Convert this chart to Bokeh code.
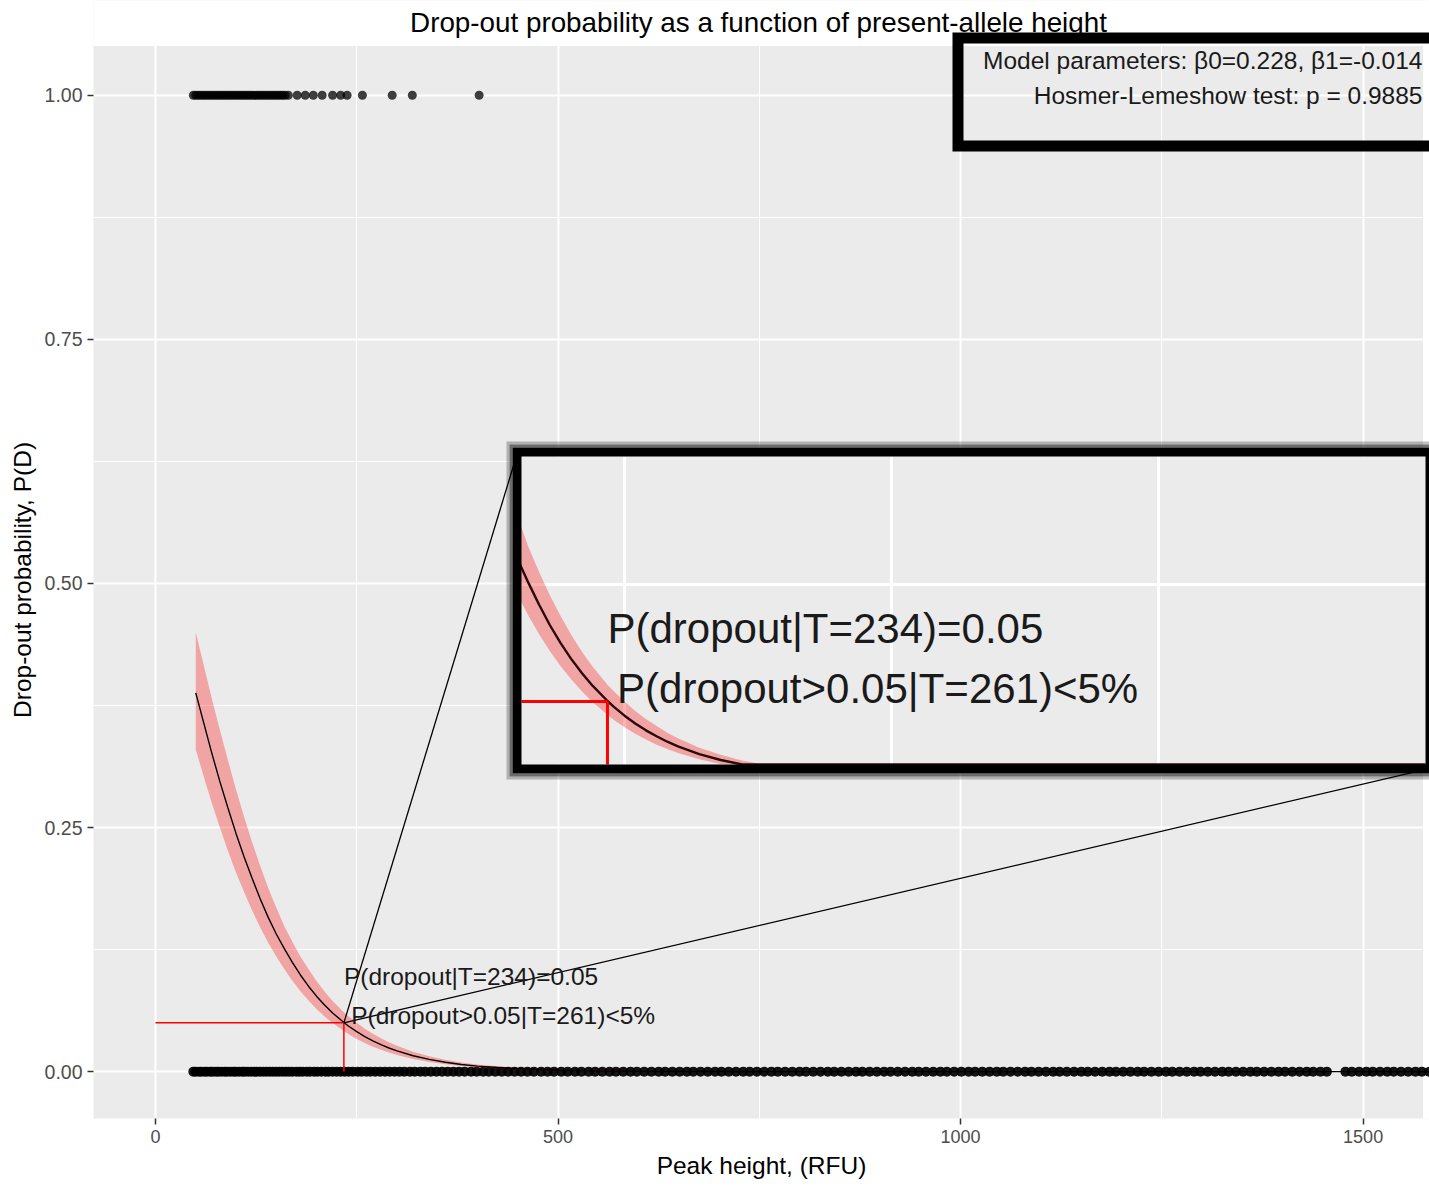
import numpy as np
from bokeh.plotting import figure
from bokeh.models import (Range1d, FixedTicker, NumeralTickFormatter, Label,
                          BoxAnnotation)
from bokeh.embed import file_html
from bokeh.resources import INLINE

FONT = "Liberation Sans"

# ---------------- data ----------------
# observed drop-outs (y = 1) : peak height of the present allele
dropout_x = [47, 50, 53, 56, 59, 62, 65, 68, 71, 74, 77, 80, 83, 86, 89, 92, 95,
             98, 101, 104, 107, 110, 113, 116, 119, 122, 125, 128, 131, 134, 137,
             140, 143, 146, 149, 152, 155, 158, 161, 165, 176, 186, 196, 207,
             220, 230, 238, 257, 294, 319, 402]
# observed non drop-outs (y = 0)
present_x = [47, 50, 54, 57, 61, 64, 68, 71, 75, 78, 82, 86, 89, 93, 97, 100, 104,
             108, 111, 115, 119, 123, 126, 130, 134, 138, 142, 146, 150, 154, 158,
             162, 166, 170, 175, 179, 183, 188, 192, 197, 201, 206, 211, 215, 220,
             225, 230, 235, 240, 245, 251, 256, 262, 267, 273, 279, 285, 291, 297,
             303, 309, 316, 322, 329, 335, 342, 349, 356, 363, 370, 377, 384, 392,
             399, 407, 414, 422, 430, 438, 446, 454, 462, 470, 479, 487, 495, 504,
             512, 521, 529, 538, 546, 555, 564, 572, 581, 590, 598, 607, 616, 625,
             633, 642, 651, 660, 668, 677, 686, 695, 703, 712, 721, 730, 738, 747,
             756, 765, 773, 782, 791, 800, 808, 817, 826, 835, 843, 852, 861, 870,
             878, 887, 896, 905, 913, 922, 931, 940, 948, 957, 966, 975, 983, 992,
             1001, 1010, 1018, 1027, 1036, 1045, 1053, 1062, 1071, 1080, 1088,
             1097, 1106, 1115, 1123, 1132, 1141, 1150, 1158, 1167, 1176, 1185,
             1193, 1202, 1211, 1220, 1228, 1237, 1246, 1255, 1263, 1272, 1281,
             1290, 1298, 1307, 1316, 1325, 1333, 1342, 1351, 1360, 1368, 1377,
             1386, 1395, 1403, 1412, 1421, 1430, 1438, 1447, 1455, 1478, 1486,
             1495, 1504, 1512, 1521, 1530, 1538, 1547, 1556, 1565, 1573, 1582]

# fitted drop-out probability and its confidence band
fit_x = [50, 60, 70, 80, 90, 100, 110, 120, 130, 140, 150, 160, 170, 180, 190,
         200, 210, 220, 234, 240, 250, 260, 270, 280, 290, 300, 320, 340, 360,
         380, 400, 450, 500, 550, 600, 700, 800, 1000, 1200, 1400, 1582]
fit_p = [0.388, 0.357, 0.326, 0.297, 0.270, 0.244, 0.220, 0.198, 0.177, 0.158,
         0.141, 0.126, 0.112, 0.099, 0.0875, 0.0773, 0.0682, 0.0601, 0.0503,
         0.0465, 0.0409, 0.0359, 0.0315, 0.0277, 0.0242, 0.0212, 0.0163, 0.0125,
         0.0096, 0.0073, 0.0056, 0.0029, 0.0015, 0.0008, 0.0004, 0.0001, 0.0,
         0.0, 0.0, 0.0, 0.0]
fit_lo = [0.330, 0.302, 0.275, 0.250, 0.226, 0.204, 0.184, 0.165, 0.148, 0.132,
          0.118, 0.105, 0.093, 0.0824, 0.0728, 0.0642, 0.0565, 0.0497, 0.0415,
          0.0382, 0.0334, 0.0293, 0.0256, 0.0223, 0.0196, 0.0170, 0.0130, 0.0099,
          0.0075, 0.0057, 0.0043, 0.0022, 0.0011, 0.0006, 0.0003, 0.0001, 0.0,
          0.0, 0.0, 0.0, 0.0]
fit_hi = [0.450, 0.416, 0.382, 0.350, 0.319, 0.289, 0.261, 0.235, 0.211, 0.188,
          0.168, 0.149, 0.133, 0.118, 0.105, 0.0928, 0.0820, 0.0724, 0.0607,
          0.0565, 0.0500, 0.0439, 0.0388, 0.0342, 0.0300, 0.0265, 0.0204, 0.0158,
          0.0122, 0.0094, 0.0072, 0.0038, 0.0020, 0.0011, 0.0006, 0.0002, 0.0,
          0.0, 0.0, 0.0, 0.0]

threshold_T = 234
threshold_p = 0.05
label_1 = "P(dropout|T=234)=0.05"
label_2 = "P(dropout>0.05|T=261)<5%"
label_1_pos = (234, 0.097)
label_2_pos = (243, 0.058)
title_text = "Drop-out probability as a function of present-allele height"
model_text = "Model parameters: \u03b20=0.228, \u03b21=-0.014"
hl_text = "Hosmer-Lemeshow test: p = 0.9885"

x_ticks = [0, 500, 1000, 1500]
x_minor = [250, 750, 1250]
y_ticks = [0.0, 0.25, 0.5, 0.75, 1.0]
y_minor = [0.125, 0.375, 0.625, 0.875]

# ---------------- layout helpers ----------------
W, H = 1429, 1190
# visible grey panel (pixels) and its data limits
PL, PR, PT, PB = 93, 1423, 45, 1118
PX0, PX1 = -77.0, 1575.0
PY0, PY1 = -0.048, 1.051
SX = (PX1 - PX0) / (PR - PL)      # data units per pixel
SY = (PY1 - PY0) / (PB - PT)
# the plotting frame is extended to the top and right page edges so that the
# boxes which overhang the panel can be drawn
FR, FT = W, 0
X0, X1 = PX0, PX1 + (FR - PR) * SX
Y0, Y1 = PY0, PY1 + (PT - FT) * SY


def px2x(px):
    return PX0 + (px - PL) * SX


def py2y(py):
    return PY1 - (py - PT) * SY


# zoom inset: data window and its place on the page
IX0, IX1, IY0, IY1 = 153.5, 1000.0, 0.0096, 0.207
IL, IR, IT, IB = 521, 1425, 456, 764


def ix(X):
    X = np.asarray(X, dtype=float)
    return px2x(IL + (X - IX0) / (IX1 - IX0) * (IR - IL))


def iy(Y):
    Y = np.asarray(Y, dtype=float)
    return py2y(IB - (Y - IY0) / (IY1 - IY0) * (IB - IT))


# ---------------- figure ----------------
p = figure(width=W, height=H, output_backend="svg", toolbar_location=None,
           x_range=Range1d(X0, X1), y_range=Range1d(Y0, Y1),
           min_border_left=PL, min_border_right=W - FR,
           min_border_top=FT, min_border_bottom=H - PB)
p.background_fill_color = "#EBEBEB"
p.border_fill_color = "white"
p.outline_line_color = None

p.xaxis.ticker = FixedTicker(ticks=x_ticks, minor_ticks=x_minor)
p.yaxis.ticker = FixedTicker(ticks=y_ticks, minor_ticks=y_minor)
p.yaxis.formatter = NumeralTickFormatter(format="0.00")
for ax in (p.xaxis[0], p.yaxis[0]):
    ax.axis_line_color = None
    ax.major_tick_line_color = "#333333"
    ax.major_tick_line_width = 1.5
    ax.major_tick_out = 6
    ax.major_tick_in = 0
    ax.minor_tick_line_color = None
    ax.major_label_text_color = "#4D4D4D"
    ax.major_label_text_font = FONT
    ax.axis_label_text_font = FONT
    ax.axis_label_text_font_size = "24.5px"
    ax.axis_label_text_font_style = "normal"
    ax.axis_label_text_color = "black"
    ax.major_label_standoff = 5
p.xaxis.major_label_text_font_size = "18px"
p.yaxis.major_label_text_font_size = "19.5px"
p.xaxis.axis_label = "Peak height, (RFU)"
# trailing no-break spaces re-centre the label on the grey panel
p.yaxis.axis_label = "Drop-out probability, P(D)" + "\u00a0" * 6
p.xaxis.axis_label_standoff = 6
p.yaxis.axis_label_standoff = 6

p.grid.grid_line_color = "white"
p.grid.grid_line_width = 2
p.grid.minor_grid_line_color = "white"
p.grid.minor_grid_line_width = 1

# white page strips above and right of the grey panel (overdrawn past edges)
pad_x, pad_y = 200 * SX, 200 * SY
p.quad(left=[X0 - pad_x, px2x(PR)], right=[X1 + pad_x, X1 + pad_x],
       bottom=[py2y(PT), Y0 - pad_y], top=[Y1 + pad_y, Y1 + pad_y],
       fill_color="white", line_color="white", line_width=1)

# observations
p.scatter(dropout_x, [1.0] * len(dropout_x), size=9, fill_color="black",
          fill_alpha=0.75, line_color=None)
p.scatter(present_x, [0.0] * len(present_x), size=10, fill_color="black",
          fill_alpha=0.92, line_color=None)

# fit band + line
p.varea(x=fit_x, y1=fit_lo, y2=fit_hi, fill_color="red", fill_alpha=0.3)
p.line(fit_x, fit_p, line_color="black", line_width=1.4)

# threshold lines
p.segment(x0=[0, threshold_T], y0=[threshold_p, 0],
          x1=[threshold_T, threshold_T], y1=[threshold_p, threshold_p],
          line_color="red", line_width=1.5)

for txt, (tx, ty) in ((label_1, label_1_pos), (label_2, label_2_pos)):
    p.add_layout(Label(x=tx, y=ty, text=txt, text_font=FONT,
                       text_font_size="24.5px", text_baseline="middle",
                       text_color="#1a1a1a"))

# zoom connectors
p.segment(x0=[threshold_T, threshold_T], y0=[threshold_p, threshold_p],
          x1=[px2x(517), px2x(1429)], y1=[py2y(452), py2y(768)],
          line_color="black", line_width=1.3)

# ---------------- inset ----------------
p.quad(left=[px2x(IL)], right=[px2x(IR)], top=[py2y(IT)], bottom=[py2y(IB)],
       fill_color="#EBEBEB", line_color=None)

gx = [v for v in sorted(x_ticks + x_minor) if IX0 < v < IX1]
gy = [v for v in sorted(y_ticks + y_minor) if IY0 < v < IY1]
p.segment(x0=list(ix(gx)), y0=[float(iy(IY0))] * len(gx),
          x1=list(ix(gx)), y1=[float(iy(IY1))] * len(gx),
          line_color="white", line_width=3)
p.segment(x0=[float(ix(IX0))] * len(gy), y0=list(iy(gy)),
          x1=[float(ix(IX1))] * len(gy), y1=list(iy(gy)),
          line_color="white", line_width=3)

fx = np.array(fit_x, dtype=float)
sel = (fx >= 150) & (fx <= IX1)
cx = ix(fx[sel])
p.varea(x=cx, y1=iy(np.clip(np.array(fit_lo)[sel], IY0, IY1)),
        y2=iy(np.clip(np.array(fit_hi)[sel], IY0, IY1)),
        fill_color="red", fill_alpha=0.3)
p.line(cx, iy(np.clip(np.array(fit_p)[sel], IY0, IY1)), line_color="#2a0a0a",
       line_width=2.4)
p.segment(x0=[float(ix(IX0)), float(ix(threshold_T))],
          y0=[float(iy(threshold_p)), float(iy(threshold_p))],
          x1=[float(ix(threshold_T)), float(ix(threshold_T))],
          y1=[float(iy(threshold_p)), float(iy(IY0))],
          line_color="red", line_width=3)
for txt, (tx, ty) in ((label_1, label_1_pos), (label_2, label_2_pos)):
    p.add_layout(Label(x=float(ix(tx)), y=float(iy(ty)), text=txt,
                       text_font=FONT, text_font_size="42px",
                       text_baseline="middle", text_color="#1a1a1a"))

# title
p.add_layout(Label(x=px2x((PL + PR) / 2), y=py2y(22), text=title_text,
                   text_font=FONT, text_font_size="27.8px",
                   text_align="center", text_baseline="middle",
                   text_color="black"))

# inset frame: solid 9 px border plus a soft outer shadow
# (offset, width, alpha) measured outward from the inner edge of the frame
for off, lw, a in ((13.5, 3, 0.25), (10.5, 3, 0.55), (4.5, 9, 1.0)):
    p.add_layout(BoxAnnotation(left=px2x(IL - off), right=px2x(IR + off),
                               top=py2y(IT - off), bottom=py2y(IB + off),
                               fill_alpha=0, fill_color=None,
                               line_color="black", line_alpha=a, line_width=lw,
                               line_join="miter"))

# model box top-right
p.add_layout(BoxAnnotation(left=px2x(957.5), right=px2x(1445),
                           top=py2y(37.5), bottom=py2y(145.5),
                           fill_alpha=0, fill_color=None, line_color="black",
                           line_alpha=1.0, line_width=11, line_join="miter"))
p.add_layout(Label(x=px2x(1422), y=py2y(60), text=model_text, text_font=FONT,
                   text_font_size="24.5px", text_align="right",
                   text_baseline="middle", text_color="#1a1a1a"))
p.add_layout(Label(x=px2x(1422), y=py2y(95), text=hl_text, text_font=FONT,
                   text_font_size="24.5px", text_align="right",
                   text_baseline="middle", text_color="#1a1a1a"))

open("out.html", "w").write(file_html(p, INLINE))
